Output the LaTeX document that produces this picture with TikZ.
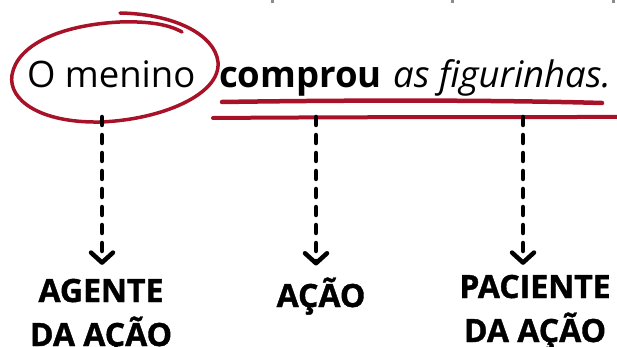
\documentclass[tikz,border=0pt]{standalone}
\usepackage{fontspec}
\setmainfont{Open Sans}
\newfontfamily\heavy{Open Sans}[BoldFeatures={FakeBold=1.2}]
\usetikzlibrary{arrows.meta}
\definecolor{inkred}{RGB}{168,18,40}
\definecolor{fragray}{RGB}{140,140,140}
\tikzset{
  plain/.style={inner sep=0pt, outer sep=0pt},
  sentence/.style={plain, font=\fontsize{36.5}{44}\selectfont},
  label/.style={plain, align=center, font=\fontsize{32}{44}\selectfont\heavy\bfseries},
  redstroke/.style={draw=inkred, line width=3.5pt, line cap=round, line join=round},
  pointer/.style={draw=black, line width=4.5pt, line cap=round, dash pattern=on 8pt off 10pt,
    -{Straight Barb[length=10pt,width=22pt,round]}}
}
\begin{document}
\begin{tikzpicture}[x=1pt,y=-1pt]
\useasboundingbox (0,0) rectangle (617,347);
% cut-off fragments at top edge
\fill[fragray] (270.5,0) rectangle (273.5,3);
\fill[fragray] (450.5,0) rectangle (453.5,3);
\fill[fragray] (611.5,0) rectangle (614.5,3);
% sentence
\node[sentence, anchor=base west] (agent) at (27,88) {O menino};
\node[sentence, anchor=base west] (rest) at (219,88) {\textbf{comprou}\hspace{2pt} \textit{as figurinhas.}};
% hand-drawn circle around "O menino"
\draw[redstroke] (120,13) .. controls (175,14) and (215,35) .. (218,62)
  .. controls (221,95) and (160,120) .. (100,122)
  .. controls (40,123) and (8,100) .. (12,75)
  .. controls (17,45) and (60,25) .. (120,22)
  .. controls (150,21) and (170,25) .. (182,32);
% underlines
\draw[redstroke, line width=4.5pt] (222,102) .. controls (350,100) and (500,100) .. (602,103);
\draw[redstroke, line width=4pt] (213,118) .. controls (350,117) and (500,117) .. (620,117);
% labels
\node[label, anchor=base] (l1) at (101,346) {AGENTE\\DA AÇÃO};
\node[label, anchor=base] (l2) at (321,307) {AÇÃO};
\node[label, anchor=base] (l3) at (535,342) {PACIENTE\\DA AÇÃO};
% pointer starts
\coordinate (s1) at (102,117);
\coordinate (s2) at (316,117);
\coordinate (s3) at (523,117);
\draw[pointer, shorten >=14pt] (s1) -- (s1 |- l1.north);
\draw[pointer, shorten >=12pt] (s2) -- (s2 |- l2.north);
\draw[pointer, shorten >=10pt] (s3) -- (s3 |- l3.north);
\end{tikzpicture}
\end{document}
